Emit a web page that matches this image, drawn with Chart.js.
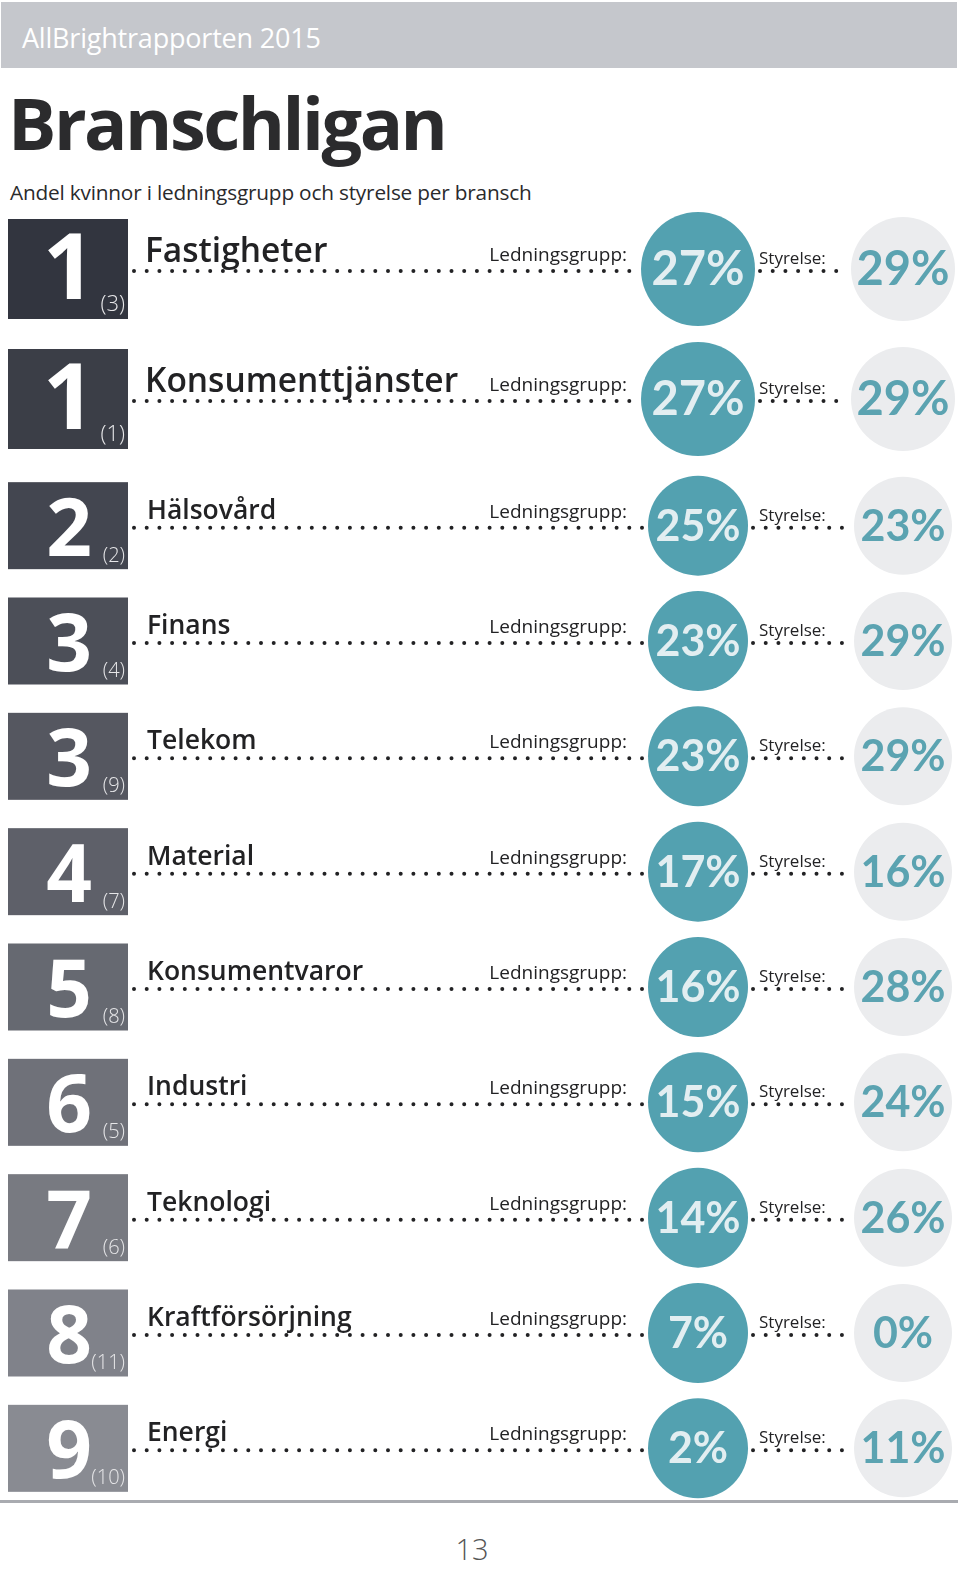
<!DOCTYPE html>
<html>
<head>
<meta charset="utf-8">
<script src="https://cdn.jsdelivr.net/npm/chart.js@4.4.1/dist/chart.umd.min.js"></script>
<style>
  body { margin: 0; background: #fff; }
  #page { position: relative; width: 960px; height: 1569px; overflow: hidden; font-family: "Open Sans", sans-serif; color: #2a2a2c; }
  .txt { position: absolute; line-height: 1; white-space: nowrap; }
  #band { position: absolute; left: 1px; top: 2px; width: 956px; height: 66px; background: #c5c7cc; }
  #header { left: 22px; top: 24px; font-size: 27px; color: #fff; letter-spacing: -0.2px; }
  #title { left: 8px; top: 86px; font-size: 72px; font-weight: 700; letter-spacing: -2.5px; color: #2b2b2d; }
  #subtitle { left: 10px; top: 182px; font-size: 20.8px; letter-spacing: -0.2px; }
  #rule { position: absolute; left: 0; top: 1500px; width: 958px; height: 3px; background: #a9abb0; }
  #pageno { left: 0; width: 944px; text-align: center; top: 1534px; font-size: 29px; font-weight: 300; color: #555; }
  canvas { position: absolute; left: 0; }
</style>
</head>
<body>
<div id="page">
  <div id="band"></div>
  <div class="txt" id="header">AllBrightrapporten 2015</div>
  <div class="txt" id="title">Branschligan</div>
  <div class="txt" id="subtitle">Andel kvinnor i ledningsgrupp och styrelse per bransch</div>
  <canvas id="topChart" width="960" height="260" style="top:204px"></canvas>
  <canvas id="restChart" width="960" height="1038" style="top:468px"></canvas>
  <div id="rule"></div>
  <div class="txt" id="pageno">13</div>
</div>
<script>
'use strict';

// ---- data ----
const industries = ['Fastigheter', 'Konsumenttjänster', 'Hälsovård', 'Finans', 'Telekom', 'Material',
    'Konsumentvaror', 'Industri', 'Teknologi', 'Kraftförsörjning', 'Energi'];
const ranks = [1, 1, 2, 3, 3, 4, 5, 6, 7, 8, 9];
const prevRanks = [3, 1, 2, 4, 9, 7, 8, 5, 6, 11, 10];
const ledningsgrupp = [27, 27, 25, 23, 23, 17, 16, 15, 14, 7, 2];
const styrelse = [29, 29, 23, 29, 29, 16, 28, 24, 26, 0, 11];
const columnLabels = ['Ledningsgrupp:', 'Styrelse:'];

const TEAL = '#53a1b0';
const LIGHT = '#ebecee';
const INK = '#222224';

// box shade goes from dark to light down the list
const boxColor = i => {
    const a = [50, 53, 63], b = [137, 139, 146];
    const t = i / (industries.length - 1);
    return 'rgb(' + a.map((c, k) => Math.round(c + (b[k] - c) * t)).join(',') + ')';
};

// ================ row decorations =================

const rowPlugin = {
    id: 'rows',
    beforeDatasetsDraw(chart) {
        const { ctx } = chart;
        const o = chart.options.plugins.rows;
        const y = chart.scales.y;
        const lgMeta = chart.getDatasetMeta(0);
        const stMeta = chart.getDatasetMeta(1);
        o.rows.forEach((idx, i) => {
            const cy = y.getPixelForValue(i);
            const lgX = lgMeta.data[i].x;
            const stX = stMeta.data[i].x;
            ctx.save();
            // rank box
            ctx.fillStyle = boxColor(idx);
            ctx.fillRect(8, cy - o.boxH / 2, 120, o.boxH);
            ctx.fillStyle = '#fff';
            ctx.textAlign = 'center';
            ctx.textBaseline = 'alphabetic';
            ctx.font = `700 ${o.rankSize}px "Open Sans"`;
            ctx.fillText(String(ranks[idx]), 69, cy + 30);
            ctx.textAlign = 'right';
            ctx.fillStyle = '#e6e6e8';
            ctx.font = `300 ${o.prevSize}px "Open Sans"`;
            ctx.fillText('(' + prevRanks[idx] + ')', 125, cy + o.prevDy);

            // dotted leaders
            ctx.strokeStyle = INK;
            ctx.lineWidth = 4;
            ctx.lineCap = 'round';
            ctx.setLineDash([0, 12.7]);
            ctx.beginPath();
            ctx.moveTo(134, cy + 2);
            ctx.lineTo(lgX - o.lgR - 3, cy + 2);
            ctx.stroke();
            ctx.beginPath();
            ctx.moveTo(lgX + o.lgR + 5, cy + 2);
            ctx.lineTo(stX - o.stR - 8, cy + 2);
            ctx.stroke();
            ctx.setLineDash([]);

            // texts
            ctx.fillStyle = INK;
            ctx.textAlign = 'left';
            ctx.font = `600 ${o.titleSize}px "Open Sans"`;
            ctx.fillText(industries[idx], o.titleX, cy - 7);
            ctx.textAlign = 'right';
            ctx.font = '400 19px "Open Sans"';
            ctx.fillText(columnLabels[0], lgX - o.lgR - o.labelGap, cy - 8);
            ctx.textAlign = 'left';
            ctx.font = '400 17px "Open Sans"';
            ctx.fillText(columnLabels[1], lgX + 61, cy - 5);
            ctx.restore();
        });
    },
    afterDatasetsDraw(chart) {
        const { ctx } = chart;
        const o = chart.options.plugins.rows;
        ctx.save();
        ctx.textAlign = 'center';
        ctx.textBaseline = 'middle';
        ctx.font = `700 ${o.pctSize}px Lato`;
        chart.data.datasets.forEach((ds, d) => {
            ctx.fillStyle = d === 0 ? '#e2eef1' : '#5ba3b1';
            chart.getDatasetMeta(d).data.forEach((pt, i) => {
                ctx.fillText(ds.data[i].v + '%', pt.x, pt.y + 1);
            });
        });
        ctx.restore();
    }
};

const makeChart = (id, rows, style) => {
    const lgData = rows.map((idx, i) => ({ x: 0, y: i, v: ledningsgrupp[idx] }));
    const stData = rows.map((idx, i) => ({ x: 1, y: i, v: styrelse[idx] }));
    return new Chart(document.getElementById(id), {
        type: 'scatter',
        data: {
            datasets: [
                { label: 'Ledningsgrupp', data: lgData, backgroundColor: TEAL, borderWidth: 0,
                  pointRadius: style.lgR, pointHoverRadius: style.lgR, clip: false },
                { label: 'Styrelse', data: stData, backgroundColor: LIGHT, borderWidth: 0,
                  pointRadius: style.stR, pointHoverRadius: style.stR, clip: false }
            ]
        },
        options: {
            responsive: false,
            animation: false,
            events: [],
            layout: { padding: 0, autoPadding: false },
            plugins: {
                legend: { display: false },
                tooltip: { enabled: false },
                rows: Object.assign({ rows }, style)
            },
            scales: {
                x: { type: 'linear', min: -3.405, max: 1.278, display: false },
                y: { type: 'linear', min: -0.5, max: rows.length - 0.5, reverse: true, display: false }
            }
        },
        plugins: [rowPlugin]
    });
};

makeChart('topChart', [0, 1], {
    boxH: 100, rankSize: 92, prevSize: 22, prevDy: 42, titleSize: 33.5, titleX: 145,
    lgR: 57, stR: 52, pctSize: 47, labelGap: 14
});
makeChart('restChart', [2, 3, 4, 5, 6, 7, 8, 9, 10], {
    boxH: 87, rankSize: 80, prevSize: 20, prevDy: 36, titleSize: 26.5, titleX: 147,
    lgR: 50, stR: 49, pctSize: 43, labelGap: 21
});
</script>
</body>
</html>
